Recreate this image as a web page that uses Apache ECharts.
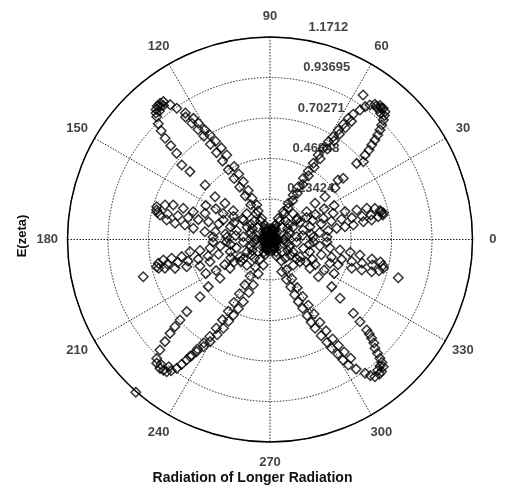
<!DOCTYPE html>
<html>
<head>
<meta charset="utf-8">
<script src="https://cdn.jsdelivr.net/npm/echarts@6/dist/echarts.min.js"></script>
<style>
  html, body { margin: 0; padding: 0; background: #ffffff; }
  #chart { width: 505px; height: 486px; }
</style>
</head>
<body>
<div id="chart"></div>
<script>
// Radial grid: ring values and their printed labels
const ringTicks = [0.23424, 0.46848, 0.70271, 0.93695, 1.1712];
const ringLabels = ['0.23424', '0.46848', '0.70271', '0.93695', '1.1712'];
const rMax = 1.1712;
// spoke angles (degrees) and the radius at which they are labelled
const angleTicks = [0, 30, 60, 90, 120, 150, 180, 210, 240, 270, 300, 330];
const angleLabelRadius = 1.1 * rMax;
const angleStep = 30;
// direction along which the ring values are printed (degrees)
const ringLabelAngle = 82.5;

// E(zeta) samples as [radius, angle in degrees]
const core = [
  [0.01, 0], [0.02, 30], [0.015, 70], [0.03, 100], [0.02, 140], [0.025, 180],
  [0.015, 220], [0.03, 250], [0.02, 290], [0.025, 320], [0.04, 60], [0.045, 120],
  [0.04, 240], [0.045, 300], [0.035, 15], [0.035, 165], [0.035, 195], [0.035, 345],
  [0.05, 45], [0.05, 135], [0.05, 225], [0.05, 315], [0.06, 80], [0.06, 260],
  [0.02, 10], [0.03, 40], [0.04, 85], [0.03, 115], [0.04, 150], [0.03, 200],
  [0.04, 235], [0.03, 275], [0.04, 330], [0.03, 355], [0.055, 65], [0.055, 115],
  [0.055, 245], [0.055, 295], [0.045, 5], [0.045, 175], [0.045, 185], [0.045, 355],
  [0.065, 105], [0.065, 75], [0.065, 255], [0.065, 285], [0.005, 90], [0.01, 200]
];

const lobeNE = [
  // long edge
  [0.05, 72], [0.09, 70], [0.131, 68.6], [0.179, 64.4], [0.234, 63.2], [0.29, 62.4],
  [0.346, 61.8], [0.403, 61.4], [0.454, 60.8], [0.507, 60.4], [0.563, 60.3], [0.611, 59.7],
  [0.659, 59.2], [0.698, 58.4], [0.746, 58.0], [0.79, 57.5], [0.835, 57.1], [0.87, 56.4],
  [0.912, 55.2], [0.945, 54.4],
  [0.07, 64], [0.12, 62.5], [0.17, 61], [0.21, 60.2], [0.26, 59.8], [0.31, 59.4],
  [0.37, 59.2], [0.43, 58.9], [0.49, 58.6], [0.55, 58.2], [0.62, 57.6], [0.68, 57.0],
  [0.73, 56.6], [0.78, 56.0], [0.83, 55.4],
  // tip
  [0.969, 53.4], [0.99, 52.2], [1.002, 50.6], [1.002, 49.2], [0.994, 48.0], [0.975, 47.3],
  [0.985, 51.5], [0.995, 49.8], [0.994, 57.2], [0.98, 50.5], [0.97, 48.8],
  // return edge
  [0.952, 46.5], [0.925, 45.7], [0.898, 44.9], [0.868, 44.1], [0.837, 43.5], [0.803, 42.9],
  [0.772, 42.1], [0.735, 41.6], [0.703, 39.8], [0.667, 41.3],
  [0.552, 39.9], [0.523, 41.2], [0.48, 38.4], [0.403, 37.9], [0.334, 38.8], [0.266, 37.2],
  [0.2, 37.7], [0.14, 39],
  // side lobe
  [0.2, 30], [0.27, 24], [0.332, 21.7], [0.396, 22.5], [0.463, 20.4], [0.53, 18.8],
  [0.588, 17.9], [0.633, 16.5], [0.658, 14.7], [0.673, 13.3], [0.668, 12.3], [0.662, 14.0],
  [0.64, 11.9], [0.599, 10.9], [0.55, 10.8], [0.489, 9.9], [0.44, 9.7], [0.391, 9.5],
  [0.34, 8.5], [0.29, 8.0], [0.24, 7.5], [0.19, 7.0],
  [0.37, 16.5], [0.43, 15.8], [0.49, 14.8], [0.55, 14.2], [0.6, 13.6], [0.31, 17],
  // between the lobes
  [0.191, 36.1], [0.247, 31], [0.243, 17.8], [0.2, 15.9], [0.155, 6], [0.12, 20],
  [0.15, 28], [0.3, 29], [0.1, 10], [0.1, 45], [0.08, 2], [0.36, 29.5], [0.42, 28],
  [0.25, 3], [0.33, 2.5], [0.14, 50], [0.2, 48], [0.12, 32]
];

const lobeNW = [
  [0.05, 108], [0.09, 110], [0.131, 111.5], [0.179, 112.5], [0.214, 111], [0.26, 113.5],
  [0.31, 114], [0.368, 114.8], [0.42, 115.5], [0.47, 116.2], [0.549, 117.1], [0.6, 118],
  [0.65, 119], [0.697, 119.9], [0.74, 120.8], [0.79, 121.6], [0.829, 122.3], [0.88, 123.8],
  [0.931, 125.4], [0.97, 126.5],
  [0.07, 116], [0.12, 117.5], [0.17, 118.5], [0.23, 119], [0.29, 119.5], [0.35, 120],
  [0.41, 120.5], [0.47, 120.8], [0.53, 121.2], [0.59, 121.6], [0.65, 122], [0.71, 122.6],
  [0.76, 123.2], [0.81, 123.9], [0.86, 124.6],
  [1.008, 127.7], [1.012, 128.9], [1.01, 130.2], [1.0, 131.2], [0.985, 132], [0.998, 129.5],
  [0.99, 128.5], [0.98, 130.8],
  [0.966, 132.7], [0.93, 134], [0.89, 135], [0.843, 136], [0.79, 136.6], [0.735, 137.3],
  [0.668, 139.8], [0.607, 139.7], [0.49, 140], [0.403, 142.1], [0.334, 141.2], [0.27, 142],
  [0.2, 143], [0.14, 141],
  [0.23, 155], [0.293, 157.3], [0.405, 158], [0.472, 160.1], [0.533, 160.2], [0.594, 160.4],
  [0.639, 161.8], [0.682, 163.9], [0.677, 165.4], [0.67, 166.5], [0.652, 167.4], [0.608, 169.3],
  [0.557, 170.3], [0.499, 170.3], [0.448, 171.7], [0.379, 173.2], [0.32, 172], [0.26, 173],
  [0.2, 173.5],
  [0.37, 164], [0.43, 164.5], [0.49, 165], [0.55, 165.5], [0.61, 166], [0.31, 163],
  [0.19, 144], [0.25, 148], [0.24, 162], [0.2, 165], [0.155, 174], [0.12, 160],
  [0.15, 152], [0.31, 151], [0.1, 170], [0.1, 135], [0.08, 178], [0.36, 150.5], [0.42, 152],
  [0.25, 177], [0.33, 177.5], [0.14, 130], [0.2, 132], [0.12, 148]
];

const lobeSW = [
  [0.05, 252], [0.09, 253], [0.153, 255.3], [0.21, 251], [0.28, 249.8], [0.33, 248.2],
  [0.392, 246.8], [0.44, 245.4], [0.486, 244.1], [0.53, 243.2], [0.58, 242.3], [0.63, 241],
  [0.685, 239.6], [0.73, 238.2], [0.775, 236.8], [0.81, 236], [0.847, 235.3], [0.885, 234.7],
  [0.92, 234.1],
  [0.08, 244], [0.13, 243], [0.18, 242], [0.24, 241.5], [0.3, 241], [0.36, 240.6],
  [0.42, 240.2], [0.48, 239.8], [0.54, 239.4], [0.6, 238.8], [0.66, 238.2],
  [0.71, 237.4], [0.76, 236.5], [0.82, 235.6],
  [0.95, 233], [0.97, 232], [0.98, 229.5], [0.97, 227.5], [0.95, 226.4], [0.975, 230.8],
  [0.96, 229], [0.94, 231.5],
  [1.176, 228.7],
  [0.902, 225.1], [0.847, 224.2], [0.793, 223.2], [0.746, 222.5], [0.698, 221.8], [0.637, 220.9],
  [0.523, 219.3], [0.449, 217.4], [0.366, 217.8], [0.285, 215.8], [0.21, 217], [0.14, 220],
  [0.2, 210], [0.25, 205], [0.37, 200.3], [0.433, 200.7], [0.507, 198.1], [0.574, 196.9],
  [0.63, 195.3], [0.665, 194.5], [0.674, 193.5], [0.66, 192], [0.628, 190.9], [0.579, 190.8],
  [0.52, 191], [0.468, 188.7], [0.41, 189], [0.35, 188], [0.29, 187.5], [0.23, 187],
  [0.37, 195], [0.43, 195.3], [0.49, 194.8], [0.55, 194], [0.61, 193.5], [0.31, 196],
  [0.764, 196.4],
  [0.19, 216], [0.245, 212], [0.24, 197], [0.2, 194], [0.155, 186], [0.12, 200],
  [0.15, 208], [0.3, 209], [0.1, 190], [0.1, 225], [0.08, 183], [0.36, 210], [0.42, 208],
  [0.25, 183], [0.33, 182.5], [0.14, 230], [0.2, 228], [0.12, 212]
];

const lobeSE = [
  [0.05, 290], [0.1, 291], [0.198, 290], [0.25, 292.5], [0.3, 293.6], [0.35, 294],
  [0.395, 294.5], [0.44, 295.4], [0.49, 296], [0.535, 296.4], [0.576, 296.9], [0.63, 298],
  [0.68, 299], [0.723, 299.6], [0.77, 300.6], [0.815, 301.2], [0.856, 302], [0.9, 303.6],
  [0.949, 305.4],
  [0.08, 297], [0.14, 298], [0.2, 298.6], [0.26, 299], [0.32, 299.5], [0.38, 299.8],
  [0.44, 300.2], [0.5, 300.6], [0.56, 301], [0.62, 301.5], [0.68, 302.2],
  [0.73, 302.8], [0.78, 303.4], [0.83, 304.2],
  [0.978, 306.4], [0.999, 307.4], [1.003, 309.1], [1.0, 310.2], [0.985, 311.7], [0.962, 312.3],
  [0.98, 309.5], [0.97, 311],
  [0.936, 312.8], [0.905, 313.4], [0.874, 314], [0.848, 315.1], [0.82, 315.8], [0.793, 316.4],
  [0.766, 316.9], [0.705, 317.6], [0.644, 318.5],
  [0.529, 320], [0.449, 322.6], [0.353, 322.4], [0.285, 324.2], [0.216, 323.5], [0.15, 322],
  [0.2, 330], [0.27, 335], [0.373, 338.4], [0.42, 339.6], [0.501, 340.6], [0.559, 341.6],
  [0.617, 342.4], [0.655, 344], [0.676, 345.7], [0.67, 347], [0.652, 348.5], [0.6, 349.2],
  [0.528, 350.2], [0.47, 351], [0.409, 351.5], [0.35, 352], [0.29, 352.5], [0.23, 353],
  [0.37, 344], [0.43, 344.5], [0.49, 345], [0.55, 345.6], [0.61, 346], [0.31, 343.5],
  [0.774, 343.4],
  [0.19, 324], [0.245, 328], [0.24, 343], [0.2, 345], [0.155, 354], [0.12, 340],
  [0.15, 332], [0.3, 331], [0.1, 350], [0.1, 315], [0.08, 357], [0.36, 330.5], [0.42, 332],
  [0.25, 357], [0.33, 357.5], [0.14, 310], [0.2, 312], [0.12, 328]
];

const labelFont = 'Liberation Sans, Arial, sans-serif';

const diamondStyle = {
  color: 'rgba(0,0,0,0)',
  borderColor: '#000000',
  borderWidth: 1.5
};

function markSeries(name, data) {
  return {
    name: name,
    type: 'scatter',
    coordinateSystem: 'polar',
    symbol: 'diamond',
    symbolSize: 9.5,
    itemStyle: diamondStyle,
    data: data,
    clip: false,
    silent: true
  };
}

// text-only series placed through the polar scales
function textSeries(name, data, label) {
  return {
    name: name,
    type: 'scatter',
    coordinateSystem: 'polar',
    symbol: 'circle',
    symbolSize: 1,
    itemStyle: { color: 'rgba(0,0,0,0)' },
    silent: true,
    clip: false,
    z: 5,
    data: data,
    label: Object.assign({
      show: true,
      position: 'inside',
      fontFamily: labelFont,
      fontSize: 13,
      fontWeight: 'bold',
      color: '#111',
      formatter: function (p) { return p.name; }
    }, label)
  };
}

const chart = echarts.init(document.getElementById('chart'), null, { renderer: 'canvas' });
chart.setOption({
  animation: false,
  backgroundColor: '#ffffff',
  title: {
    text: 'Radiation of Longer Radiation',
    left: 'center',
    top: 466,
    textStyle: { fontFamily: labelFont, fontSize: 14, fontWeight: 'bold', color: '#111' }
  },
  graphic: [{
    type: 'text',
    x: 22,
    y: 236,
    rotation: Math.PI / 2,
    style: {
      text: 'E(zeta)',
      fontFamily: labelFont,
      fontSize: 13,
      fontWeight: 'bold',
      fill: '#111',
      align: 'center',
      verticalAlign: 'middle'
    }
  }],
  polar: { center: [270, 239.5], radius: 202.5 },
  angleAxis: {
    type: 'value',
    min: 0,
    max: 360,
    interval: angleStep,
    startAngle: 0,
    clockwise: false,
    axisLine: { show: true, lineStyle: { color: '#000', width: 1.5 } },
    axisTick: { show: false },
    axisLabel: { show: false },
    splitLine: { show: true, lineStyle: { color: '#222', width: 1, type: [1.5, 1.5] } }
  },
  radiusAxis: {
    type: 'value',
    min: 0,
    max: rMax,
    interval: ringTicks[0],
    axisLine: { show: false },
    axisTick: { show: false },
    axisLabel: { show: false },
    splitLine: { show: true, lineStyle: { color: '#222', width: 1, type: [1.5, 1.5] } }
  },
  series: [
    markSeries('core', core),
    markSeries('NE', lobeNE),
    markSeries('NW', lobeNW),
    markSeries('SW', lobeSW),
    markSeries('SE', lobeSE),
    textSeries('ring values',
      ringTicks.map(function (v, i) { return { value: [v, ringLabelAngle], name: ringLabels[i] }; }),
      { offset: [12, -11], align: 'left', verticalAlign: 'middle' }),
    textSeries('angles',
      angleTicks.map(function (a) { return { value: [angleLabelRadius, a], name: String(a) }; }),
      { align: 'center', verticalAlign: 'middle' })
  ]
});
</script>
</body>
</html>
